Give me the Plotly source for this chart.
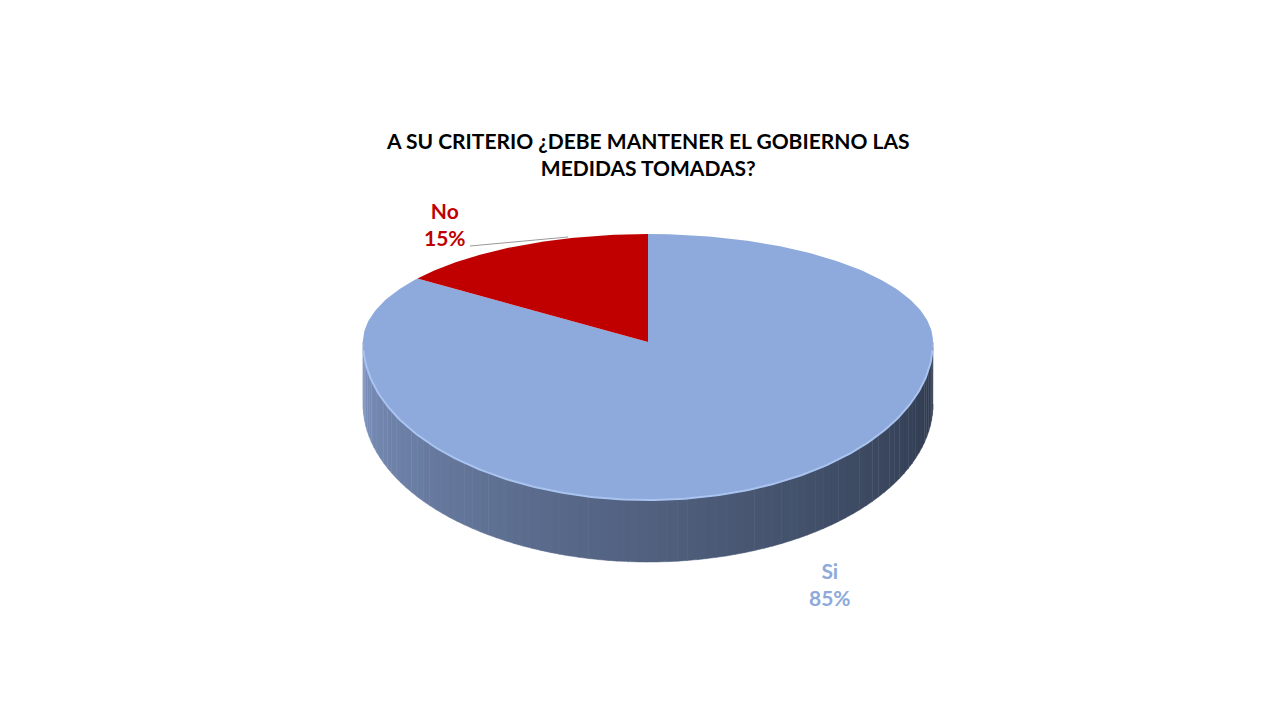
import numpy as np
import plotly.graph_objects as go

categories = ["Si", "No"]
values = [85, 15]
colors = ["#8EA9DB", "#C00000"]
title = "A SU CRITERIO ¿DEBE MANTENER EL GOBIERNO LAS<br>MEDIDAS TOMADAS?"

cx, cy, rx, ry_t, ry_b, depth = 640, 334, 285, 108, 158, 62

def pt(th, dz=0):
    s = np.sin(th)
    ry = np.where(s < 0, ry_t, ry_b)
    return cx + rx * np.cos(th), cy + ry * s + dz

fig = go.Figure()
# side wall as gradient strips
N = 90
c1 = np.array([0x80, 0x96, 0xc2]); c2 = np.array([0x2e, 0x39, 0x4d])
for i in range(N):
    a0 = np.pi * i / N; a1 = np.pi * (i + 1.05) / N
    th = np.linspace(a0, a1, 4)
    x, y = pt(th); xb, yb = pt(th[::-1], depth)
    t = 1 - (i / (N - 1))
    t = t ** 0.8
    c = (c1 * (1 - t) + c2 * t).astype(int)
    col = "rgb(%d,%d,%d)" % tuple(c)
    fig.add_trace(go.Scatter(x=np.r_[x, xb], y=np.r_[y, yb], fill="toself", mode="lines",
                             line=dict(width=0.5, color=col), fillcolor=col, hoverinfo="skip"))

# top slices
total = sum(values)
start = -np.pi / 2
# No goes counterclockwise from top, Si takes the rest
ang = {}
no_span = 2 * np.pi * values[1] / total
ang["No"] = (start, start - no_span)
ang["Si"] = (start - no_span, start - 2 * np.pi)
for cat, col in zip(categories, colors):
    a, b = ang[cat]
    th = np.linspace(a, b, 300)
    x, y = pt(th)
    fig.add_trace(go.Scatter(x=np.r_[cx, x, cx], y=np.r_[cy, y, cy], fill="toself", mode="lines",
                             line=dict(width=0), fillcolor=col, hoverinfo="skip"))
# light rim on front edge
th = np.linspace(0.05, np.pi - 0.05, 200)
x, y = pt(th)
fig.add_trace(go.Scatter(x=x, y=y, mode="lines", line=dict(width=2, color="#a9c4f0"), hoverinfo="skip"))

# leader line for No
fig.add_trace(go.Scatter(x=[462, 560], y=[238, 229], mode="lines", line=dict(width=1, color="#999"), hoverinfo="skip"))

fig.add_annotation(x=437, y=216, text=f"<b>{categories[1]}<br>{values[1]}%</b>", showarrow=False,
                   font=dict(size=21, color=colors[1], family="Lato"))
fig.add_annotation(x=822, y=576, text=f"<b>{categories[0]}<br>{values[0]}%</b>", showarrow=False,
                   font=dict(size=21, color=colors[0], family="Lato"))
fig.add_annotation(x=640, y=146, text=f"<b>{title}</b>", showarrow=False,
                   font=dict(size=21, color="black", family="Lato"))

fig.update_layout(width=1280, height=720, margin=dict(l=0, r=0, t=0, b=0), showlegend=False,
                  paper_bgcolor="white", plot_bgcolor="white",
                  xaxis=dict(range=[0, 1280], visible=False),
                  yaxis=dict(range=[720, 0], visible=False))
fig.write_html("out.html")
